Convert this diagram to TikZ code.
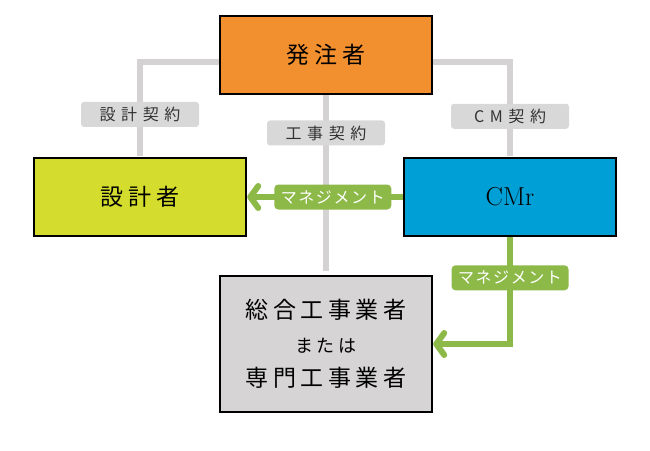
\documentclass[tikz,border=0pt]{standalone}
\usepackage{fontspec}
\usetikzlibrary{positioning,arrows.meta}
\newfontfamily\jp[LetterSpace=20]{Noto Sans CJK JP}
\newfontfamily\jplab[LetterSpace=35]{Noto Sans CJK JP}
\newfontfamily\jpmg[LetterSpace=10]{Noto Sans CJK JP}
\definecolor{orng}{RGB}{242,143,46}
\definecolor{ygrn}{RGB}{212,220,46}
\definecolor{cblue}{RGB}{0,160,214}
\definecolor{bgray}{RGB}{214,212,213}
\definecolor{lgray}{RGB}{212,210,211}
\definecolor{tgray}{RGB}{217,216,216}
\definecolor{mgrn}{RGB}{141,185,72}

\begin{document}
\begin{tikzpicture}[x=1pt,y=-1pt,>={Straight Barb[round,length=8pt,width=22pt]},
  b/.style={draw,line width=2.5pt,minimum width=212pt,minimum height=78pt,align=center,
    font=\jp\fontsize{23}{34}\selectfont},
  con/.style={draw=lgray,line width=6pt},
  lab/.style={fill=tgray,rounded corners=3pt,minimum width=118pt,minimum height=25pt,
    inner sep=0pt,text=black!80,font=\jplab\fontsize{16}{16}\selectfont},
  mg/.style={draw=mgrn,line width=6pt},
  mlab/.style={fill=mgrn,rounded corners=4pt,minimum width=117pt,minimum height=25pt,
    inner sep=0pt,text=white,font=\jpmg\fontsize{16}{16}\selectfont}]
  \useasboundingbox (0,0) rectangle (650,450);
  \node[b,fill=orng] (hc) at (326,55) {発注者};
  \node[b,fill=ygrn] (sk) at (140,197) {設計者};
  \node[b,fill=cblue,font=\fontsize{26}{28}\selectfont] (cm) at (510,197) {CMr};
  \node[b,fill=bgray,minimum height=136pt] (gk) at (326,344)
    {総合工事業者\\{\fontsize{18}{34}\selectfont または}\\専門工事業者};
  % contracts
  \draw[con] ([yshift=-7pt]hc.west) -| node[lab,pos=0.78] {設計契約} ([yshift=1.2pt]sk.north);
  \draw[con] ([yshift=-7pt]hc.east) -| node[lab,pos=0.79] {CM契約} ([yshift=1.2pt]cm.north);
  \draw[con,shorten >=4pt] (hc.south) -- node[lab,pos=0.21] {工事契約} (gk.north);
  % management
  \draw[mg,->] (cm.west) -- node[mlab,pos=0.45] {マネジメント} (sk.east);
  \draw[mg,->] (cm.south) |- node[mlab,pos=0.19] {マネジメント} (gk.east);
\end{tikzpicture}
\end{document}
